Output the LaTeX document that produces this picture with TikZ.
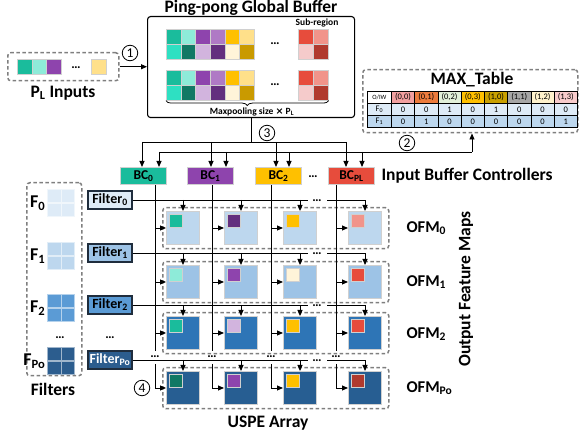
\documentclass[tikz,border=0pt]{standalone}
\usepackage{fontspec}
\setmainfont{Carlito}
\newfontfamily\djv{DejaVu Sans}
\usetikzlibrary{arrows.meta,decorations.pathreplacing}
\definecolor{cTeal}{HTML}{1ABC9C}
\definecolor{cAqua}{HTML}{8EEBD9}
\definecolor{cAquaB}{HTML}{2EE0C2}
\definecolor{cDTeal}{HTML}{117864}
\definecolor{cPurple}{HTML}{8E44AD}
\definecolor{cLPurple}{HTML}{AF7AC5}
\definecolor{cLilac}{HTML}{D2B4DE}
\definecolor{cDPurple}{HTML}{632F7E}
\definecolor{cYellow}{HTML}{FFC000}
\definecolor{cLYellow}{HTML}{FFE08A}
\definecolor{cCream}{HTML}{FFF4D9}
\definecolor{cGold}{HTML}{C99A00}
\definecolor{cRed}{HTML}{E74C3C}
\definecolor{cSalmon}{HTML}{F1948A}
\definecolor{cPink}{HTML}{F5CBCB}
\definecolor{cDRed}{HTML}{B03A2E}
\definecolor{bA}{HTML}{DEEBF7}
\definecolor{bB}{HTML}{BDD7EE}
\definecolor{bB2}{HTML}{9DC3E6}
\definecolor{bC}{HTML}{2E75B6}
\definecolor{bC2}{HTML}{5B9BD5}
\definecolor{bD}{HTML}{275E92}
\definecolor{bE}{HTML}{2C5D8E}
\definecolor{hA}{HTML}{F2A0A0}
\definecolor{hB}{HTML}{EC7B3C}
\definecolor{hC}{HTML}{E2F0D9}
\definecolor{hE}{HTML}{C9A000}
\definecolor{hF}{HTML}{A6A6A6}
\definecolor{hG}{HTML}{FFF2CC}
\definecolor{hH}{HTML}{F8CBCB}
\definecolor{dashgray}{HTML}{7F7F7F}
\definecolor{cellline}{HTML}{D0D0D0}
\definecolor{fbdraw}{HTML}{1F2D3D}
\tikzset{
  fz/.style={font=\fontsize{#1}{#1}\selectfont\bfseries},
  cell/.style={draw=cellline, line width=0.6pt, inner sep=0, anchor=north west, minimum width=14.67pt, minimum height=15pt},
  dbox/.style={draw=dashgray, line width=1.5pt, dash pattern=on 3.5pt off 2.5pt, rounded corners=3pt, inner sep=0, anchor=north west},
  arr/.style={line width=0.9pt, -{Triangle[length=6pt,width=5pt]}},
  conn/.style={line width=0.9pt},
  circ/.style={circle, draw, line width=0.8pt, inner sep=0pt, minimum size=15.5pt, font=\fontsize{13.5}{13.5}\selectfont},
  ell/.style={font=\fontsize{13}{13}\selectfont\bfseries, inner sep=0, anchor=base},
  bcbox/.style={draw=cellline, line width=1pt, anchor=north west, minimum width=46pt, minimum height=17pt, inner sep=0, fz=13.5},
  pe/.style={draw=cellline, line width=1pt, anchor=north west, minimum width=33pt, minimum height=33pt, inner sep=0},
  pein/.style={draw=cellline, line width=0.8pt, anchor=north west, minimum width=13pt, minimum height=13pt, inner sep=0},
  fbx/.style={draw=fbdraw, line width=1.1pt, minimum width=44pt, minimum height=18pt, inner sep=0, fz=14},
  gcell/.style={line width=1.2pt, minimum width=13.5pt, minimum height=13.5pt, inner sep=0, anchor=north west},
  tcell/.style={draw=black, line width=0.8pt, inner sep=0, anchor=north west, minimum width=23.25pt, minimum height=12pt, font=\fontsize{8.5}{9}\selectfont}
}
\begin{document}
\begin{tikzpicture}[x=1pt,y=-1pt]
\useasboundingbox (0,0) rectangle (579,438);

% ---------- Global buffer ----------
\node[fz=17.5] (buftitle) at (251,8) {Ping-pong Global Buffer};
\node[draw, line width=1.1pt, rounded corners=3pt, inner sep=0, anchor=north west, minimum width=207pt, minimum height=101pt] (buf) at (147,16) {};
\foreach \r/\y in {0/29,1/70}{
  \foreach \c/\ca/\cb in {0/cTeal/cAquaB,1/cAqua/cDTeal,2/cPurple/cLilac,3/cLPurple/cDPurple,4/cYellow/cCream,5/cLYellow/cGold}{
    \node[cell, fill=\ca] (g\r-\c-a) at ({166+\c*14.67},\y) {};
    \node[cell, fill=\cb] (g\r-\c-b) at ({166+\c*14.67},{\y+15}) {};
  }
  \node[cell, fill=cRed, minimum width=15pt] (s\r-a) at (298,\y) {};
  \node[cell, fill=cSalmon, minimum width=15pt] (s\r-b) at (313,\y) {};
  \node[cell, fill=cPink, minimum width=15pt] (s\r-c) at (298,{\y+15}) {};
  \node[cell, fill=cDRed, minimum width=15pt] (s\r-d) at (313,{\y+15}) {};
  \node[ell] (bd\r) at (275,{\y+16}) {\ldots};
}
\node[fz=9.5] (sublab) at (317,23) {Sub-region};
\draw[decorate, decoration={brace,mirror,amplitude=5pt}, line width=0.8pt] (g1-0-b.south west) -- (s1-d.south east);
\node[fz=9.5] (mpl) at (252,111.5) {Maxpooling size {\djv\bfseries ×} P\textsubscript{L}};

% ---------- Inputs ----------
\node[dbox, minimum width=111pt, minimum height=28pt] (inbox) at (7,52) {};
\node[cell, fill=cTeal, minimum width=14.5pt] (in0) at (17,59) {};
\node[cell, fill=cAqua, minimum width=14.5pt] (in1) at (31.5,59) {};
\node[cell, fill=cPurple, minimum width=14.5pt] (in2) at (46,59) {};
\node[ell] (indots) at (76,69) {\ldots};
\node[cell, fill=cLYellow, minimum width=15pt] (in3) at (91,59) {};
\node[fz=17.5] (inlab) at (63,93) {P\textsubscript{L} Inputs};
\draw[arr] (inbox.east) -- (inbox.east -| buf.west);
\node[circ] (c1) at (130,53) {1};

% ---------- MAX table ----------
\node[dbox, minimum width=215pt, minimum height=63pt] (mtbox) at (362,69) {};
\node[fz=17.5] (mttitle) at (472,80) {MAX\_Table};
\node[tcell, fill=white, minimum width=24pt, font=\fontsize{6.5}{7}\selectfont] (h0) at (367,91) {O/IW};
\foreach \i/\col/\tx in {1/hA/{(0,0)},2/hB/{(0,1)},3/hC/{(0,2)},4/cYellow/{(0,3)},5/hE/{(1,0)},6/hF/{(1,1)},7/hG/{(1,2)},8/hH/{(1,3)}}{
  \node[tcell, fill=\col] (h\i) at ({391+(\i-1)*23.25},91) {\tx};
}
\node[tcell, fill=bA, minimum width=24pt] (f0lab) at (367,103) {F\textsubscript{0}};
\node[tcell, fill=bB, minimum width=24pt] (f1lab) at (367,115) {F\textsubscript{1}};
\foreach \i/\va/\vb in {1/0/0,2/0/1,3/1/0,4/0/0,5/1/0,6/0/0,7/0/0,8/0/1}{
  \node[tcell, fill=bA] (ra\i) at ({391+(\i-1)*23.25},103) {\va};
  \node[tcell, fill=bB] (rb\i) at ({391+(\i-1)*23.25},115) {\vb};
}

% ---------- Buffer controllers ----------
\node[bcbox, fill=cTeal] (bc0) at (120,167) {BC\textsubscript{0}};
\node[bcbox, fill=cPurple] (bc1) at (187,167) {BC\textsubscript{1}};
\node[bcbox, fill=cYellow] (bc2) at (255,167) {BC\textsubscript{2}};
\node[bcbox, fill=cRed] (bc3) at (328,167) {BC\textsubscript{PL}};
\node[ell] (bcdots) at (313,178) {\ldots};
\node[fz=17.5, anchor=west] (ibc) at (378,176) {Input Buffer Controllers};

% (3) buffer -> controllers
\coordinate (p3-0) at (142,142);
\coordinate (p3-1) at (211,142);
\coordinate (p3-2) at (276,142);
\coordinate (p3-3) at (346,142);
\draw[conn] (buf.south) -- (buf.south |- p3-0);
\draw[conn] (p3-0) -- (p3-3);
\foreach \k in {0,1,2,3}{ \draw[arr] (p3-\k) -- (p3-\k |- bc\k.north); }
\node[circ] (c3) at (267,133) {3};

% (2) controllers <-> MAX table
\coordinate (p2-0) at (159,152);
\coordinate (p2-1) at (226,152);
\coordinate (p2-2) at (289,152);
\coordinate (p2-3) at (362,152);
\coordinate (p2-4) at (472,152);
\draw[conn] (p2-0) -- (p2-4);
\draw[arr] (p2-4) -- (p2-4 |- mtbox.south);
\foreach \k in {0,1,2,3}{ \draw[arr] (p2-\k) -- (p2-\k |- bc\k.north); }
\node[circ] (c2) at (407,143) {2};

% ---------- PE array ----------
\foreach \r/\y/\fc in {0/211/bB,1/265/bB2,2/316/bC,3/371/bD}{
  \node[dbox, minimum width=226pt, minimum height=41pt] (ofm\r) at (162,{\y-4}) {};
  \foreach \c/\x in {0/166,1/224,2/283,3/348}{
    \node[pe, fill=\fc] (pe\r-\c) at (\x,\y) {};
  }
}
\foreach \r/\y/\ca/\cb/\cc/\cd in {0/211/cTeal/cDPurple/cYellow/cSalmon,1/265/cAqua/cPurple/cCream/cRed,2/316/cTeal/cLilac/cYellow/cRed,3/371/cDTeal/cPurple/cYellow/cDRed}{
  \node[pein, fill=\ca] (q\r-0) at (169,{\y+3}) {};
  \node[pein, fill=\cb] (q\r-1) at (227,{\y+3}) {};
  \node[pein, fill=\cc] (q\r-2) at (286,{\y+3}) {};
  \node[pein, fill=\cd] (q\r-3) at (351,{\y+3}) {};
}
\node[fz=16.5, anchor=west] (olab0) at (403,228) {OFM\textsubscript{0}};
\node[fz=16.5, anchor=west] (olab1) at (403,282) {OFM\textsubscript{1}};
\node[fz=16.5, anchor=west] (olab2) at (403,334) {OFM\textsubscript{2}};
\node[fz=16.5, anchor=west] (olab3) at (403,388) {OFM\textsubscript{Po}};
\node[fz=17.5, rotate=90] (ofmlab) at (466,289) {Output Feature Maps};

% columns from controllers
\foreach \k/\vx in {0/155,1/212,2/271,3/336}{
  \coordinate (va\k) at (\vx,351);
  \coordinate (vc\k) at (\vx,364);
  \draw[conn] (bc\k.south -| va\k) -- (va\k);
  \node[ell] (vd\k) at (\vx,358) {\ldots};
  \draw[arr] (vc\k) |- (pe3-\k.west);
  \foreach \r in {0,1,2}{ \draw[arr] (va\k |- pe\r-\k.west) -- (pe\r-\k.west); }
}

% filter rows
\foreach \r/\fy/\fc/\tc/\sub in {0/200/bA/black/0,1/253/bB2/black/1,2/305/bC2/black/2,3/360/bE/white/Po}{
  \node[fbx, fill=\fc, text=\tc] (fb\r) at (110,\fy) {Filter\textsubscript{\sub}};
  \coordinate (fl\r-a) at (308,\fy);
  \coordinate (fl\r-b) at (327,\fy);
  \draw[conn] (fb\r.east) -- (fl\r-a);
  \node[ell] (fd\r) at (317,{\fy+1.5}) {\ldots};
  \draw[arr] (fl\r-b) -| (pe\r-3.north);
  \foreach \c in {0,1,2}{ \draw[arr] (pe\r-\c.north |- fl\r-a) -- (pe\r-\c.north); }
}

% ---------- Filters column ----------
\node[dbox, minimum width=55pt, minimum height=193pt] (fcol) at (26,182) {};
\foreach \r/\gy/\gc/\sub in {0/189/bA/0,1/242/bB/1,2/294/bC2/2,3/347/bE/Po}{
  \foreach \i/\dx/\dy in {a/0/0,b/13.5/0,c/0/13.5,d/13.5/13.5}{
    \node[gcell, fill=\gc, draw=white!55!\gc] (fg\r\i) at ({47+\dx},{\gy+\dy}) {};
  }
  \node[fz=18, anchor=east, inner sep=0] (flab\r) at (45.5,{\gy+14}) {F\textsubscript{\sub}};
}
\node[ell] (fdots) at (60,339) {\ldots};
\node[ell] (fbdots) at (110,339) {\ldots};
\node[fz=17.5] (filtlab) at (53,389) {Filters};
\node[circ] (c4) at (142,388) {4};
\node[fz=17.5] (uspe) at (268,423) {USPE Array};
\end{tikzpicture}
\end{document}
